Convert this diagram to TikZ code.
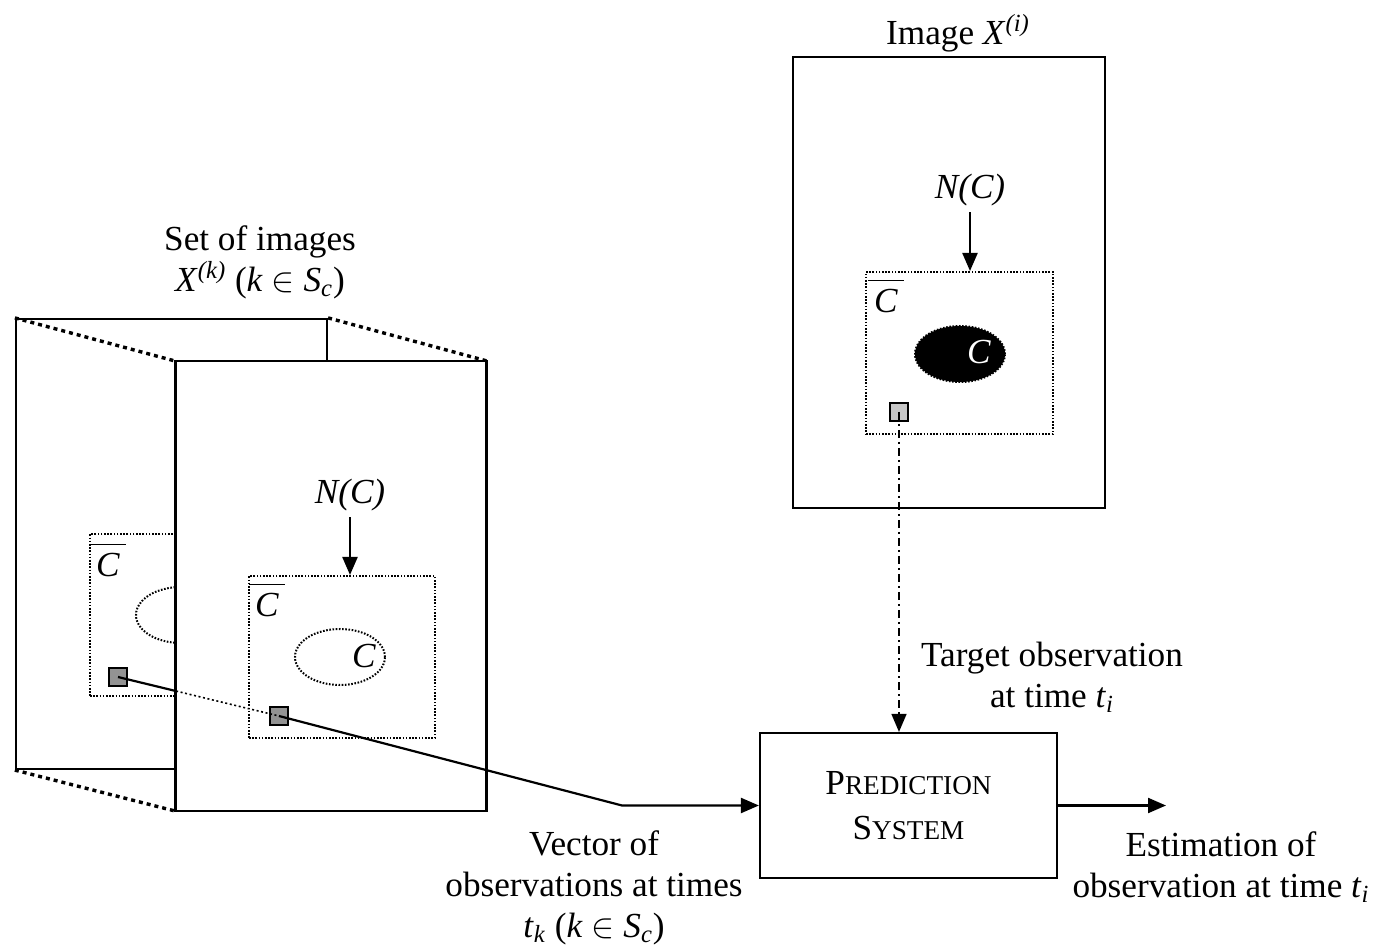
\documentclass[tikz,border=0pt]{standalone}
\usepackage{fontspec}
\setmainfont{Liberation Serif}
\usetikzlibrary{arrows.meta,shapes.geometric}
\newcommand{\cbar}{$\overline{\mbox{\rule{0pt}{0.85em}\,\textit{C}\,}}$}
\begin{document}
\begin{tikzpicture}[x=0.5pt,y=-0.5pt,
  every node/.style={font=\fontsize{17.6}{20.5}\selectfont},
  frame/.style={draw,line width=1.1pt,fill=white,inner sep=0pt,minimum width=155.5pt,minimum height=225pt},
  nbhd/.style={draw,line width=1pt,dash pattern=on 0.8pt off 0.8pt,inner sep=0pt,minimum width=93pt,minimum height=81pt},
  region/.style={draw,line width=1pt,dash pattern=on 0.8pt off 0.8pt,ellipse,inner sep=0pt,minimum width=45pt,minimum height=28pt},
  pixel/.style={draw,line width=0.9pt,fill=gray!85!white,inner sep=0pt,minimum size=9pt},
  persp/.style={line width=1.7pt,dash pattern=on 2pt off 2pt},
  tip/.style={-{Triangle[length=9pt,width=7.5pt]}},
  conn/.style={line width=1.1pt,tip},
  lbl/.style={align=center,inner sep=0pt}
]
\useasboundingbox (0,0) rectangle (1378,952);

% ---------- back image ----------
\node[frame] (back) at (171.5,544) {};
\node[nbhd] (bN) at (183,615) {};
\node[region] (bC) at (181,615) {};
\node[lbl] (bCbar) at (108,560) {\cbar};
\node[pixel] (bsq) at (118,677) {};
\draw[line width=1.1pt] (bsq.center) -- (279,716);

% perspective lines
\draw[persp] (back.north west) -- (175,361);
\draw[persp] (back.north east) -- (487,361);
\draw[persp] (back.south west) -- (175,811);

% ---------- front image ----------
\node[frame] (front) at (331,586) {};
\node[nbhd] (fN) at (342,657) {};
\node[region] (fC) at (340,657) {};
\node[lbl] (fCl) at (364,656) {\textit{C}};
\node[lbl] (fCbar) at (267,600) {\cbar};
\node[lbl] (fNC) at (350,495) {\textit{N(C)}};
\draw[conn] (fNC.south) ++(0,6) -- (fNC.south |- fN.north);
\node[pixel] (fsq) at (279,716) {};
\begin{scope}
  \clip (front.north west) rectangle (front.south east);
  \draw[line width=0.8pt,dash pattern=on 1pt off 1.3pt] (bsq.center) -- (fsq.center);
\end{scope}

\node[lbl] (settitle) at (260,262) {Set of images\\\textit{X}\textsuperscript{\textit{(k)}} (\textit{k} $\in$ \textit{S}\textsubscript{\textit{c}})};

% ---------- target image ----------
\node[lbl] (ititle) at (958,33) {Image \textit{X}\textsuperscript{\textit{(i)}}};
\node[frame,minimum width=156pt,minimum height=225.5pt] (rimg) at (949,282.5) {};
\node[nbhd,minimum width=93.5pt] (rN) at (959.5,353) {};
\node[region,fill=black] (rC) at (960,354) {};
\node[lbl,text=white] (rCl) at (979,352) {\textit{C}};
\node[lbl] (rCbar) at (886,296) {\cbar};
\node[lbl] (rNC) at (970,190) {\textit{N(C)}};
\draw[conn] (rNC.south) ++(0,6) -- (rNC.south |- rN.north);
\node[pixel,fill=gray!45!white] (rsq) at (899,412) {};

% ---------- prediction system ----------
\node[draw,line width=1.1pt,minimum width=148.5pt,minimum height=72.5pt,align=center,inner sep=0pt] (pred) at (908.5,805.5)
  {{\fontsize{17.6}{20}\selectfont P}{\fontsize{13.6}{20}\selectfont REDICTION}\\[2pt]{\fontsize{17.6}{20}\selectfont S}{\fontsize{13.6}{20}\selectfont YSTEM}};

\draw[line width=0.8pt,dash pattern=on 4pt off 2pt on 1pt off 2pt,tip] (rsq.center) -- (rsq.center |- pred.north);

\coordinate (knee) at (622,805.5);
\draw[conn] (fsq.center) -- (knee) -- (pred.west);

\coordinate (outend) at (1166,805.5);
\draw[conn] (pred.east) -- (outend);

% ---------- labels ----------
\node[lbl] (tlab) at (1052,677) {Target observation\\at time \textit{t}\textsubscript{\textit{i}}};
\node[lbl] (vlab) at (594,888) {Vector of\\observations at times\\\textit{t}\textsubscript{\textit{k}} (\textit{k} $\in$ \textit{S}\textsubscript{\textit{c}})};
\node[lbl] (elab) at (1221,867) {Estimation of\\observation at time \textit{t}\textsubscript{\textit{i}}};
\end{tikzpicture}
\end{document}
